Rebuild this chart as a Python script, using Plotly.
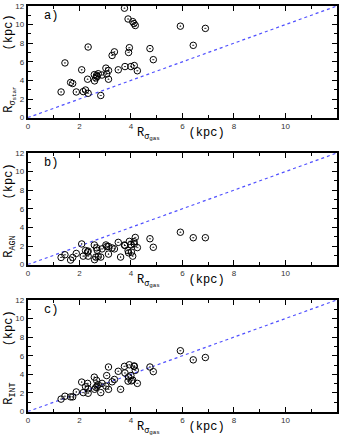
import plotly.graph_objects as go

# Shared x: R_sigma_gas (kpc)
r_gas = [1.29, 1.44, 1.66, 1.74, 1.88, 2.09, 2.15, 2.24, 2.32, 2.34, 2.34, 2.58, 2.59, 2.64,
         2.67, 2.69, 2.73, 2.83, 2.88, 3.03, 3.06, 3.13, 3.13, 3.27, 3.36, 3.51, 3.60, 3.75,
         3.77, 3.89, 3.91, 3.94, 4.00, 4.02, 4.07, 4.12, 4.13, 4.17, 4.25, 4.74, 4.87, 5.92,
         6.42, 6.89]
r_star = [2.76, 5.88, 3.78, 3.67, 2.76, 5.14, 2.80, 2.97, 4.13, 7.59, 2.62, 4.62, 3.95, 4.27,
          4.55, 4.41, 4.72, 2.38, 4.58, 5.32, 4.69, 5.07, 4.13, 6.68, 7.07, 5.14, None, 11.76,
          5.49, 10.60, 7.00, 7.52, 5.49, None, 10.32, 10.11, 5.60, 9.90, 5.04, 7.42, 6.23, 9.83,
          7.77, 9.59]
r_agn = [0.77, 1.06, 0.49, 0.77, 1.20, 2.22, 0.91, 1.51, 1.34, 1.45, 0.91, 2.11, 0.53, 0.81,
         1.80, 1.55, 0.88, 0.81, 1.69, 2.11, 1.94, 1.95, 1.13, 1.79, 1.69, 2.39, 0.81, 2.11,
         2.05, 1.51, 1.27, 2.50, 2.15, 1.34, 0.91, 2.46, 2.22, 2.92, 1.83, 2.78, 1.86, 3.48,
         2.89, 2.89]
r_int = [1.34, 1.65, 1.58, 1.58, 2.11, 3.17, 2.04, 2.67, 3.03, 2.45, 1.97, 3.70, 2.40, 2.60,
         3.35, 2.75, 2.90, 2.04, 3.03, 2.74, 3.87, 4.79, 2.39, 3.20, 3.45, 4.33, 2.39, 4.86,
         4.15, 3.27, 3.73, 5.03, 3.87, 3.30, 3.38, 4.86, 4.90, 4.43, 3.03, 4.79, 4.29, 6.54,
         5.56, 5.81]

panel_labels = ["a)", "b)", "c)"]
y_titles = ["R<sub>σ<sub>star</sub></sub>     (kpc)",
            "R<sub>AGN</sub>     (kpc)",
            "R<sub>INT</sub>     (kpc)"]
x_title = "R<sub>σ<sub>gas</sub></sub>    (kpc)"
one_to_one = [0, 12]
tick_vals = [0, 2, 4, 6, 8, 10, 12]

W, H = 341, 445
def px(x):
    return x / W
def py(y):
    return 1 - y / H

# panel pixel boxes (top, bottom)
boxes = [(2, 116), (152, 266), (302, 416)]
x_left, x_right = 26, 337

fig = go.Figure()
ys = [r_star, r_agn, r_int]
mono = "Liberation Mono"
for i, yv in enumerate(ys):
    xa = "x" if i == 0 else f"x{i+1}"
    ya = "y" if i == 0 else f"y{i+1}"
    fig.add_trace(go.Scatter(x=one_to_one, y=one_to_one, mode="lines",
                             line=dict(color="rgb(80,80,255)", width=1.2, dash="dot"),
                             xaxis=xa, yaxis=ya, showlegend=False, hoverinfo="skip"))
    fig.add_trace(go.Scatter(x=r_gas, y=yv, mode="markers",
                             marker=dict(symbol="circle-open-dot", size=6.5,
                                         color="black", line=dict(color="black", width=1)),
                             xaxis=xa, yaxis=ya, showlegend=False))
    top, bot = boxes[i]
    axcommon = dict(range=[0, 12], tickvals=tick_vals, ticks="inside", ticklen=5,
                    tickwidth=1, tickcolor="black", showline=True, linewidth=2,
                    linecolor="black", mirror="allticks", showgrid=False, zeroline=False,
                    tickfont=dict(family="Liberation Sans", size=8, color="#333"),
                    minor=dict(dtick=1, ticklen=3, ticks="inside", tickcolor="black",
                               showgrid=False))
    fig.layout[f"xaxis{'' if i == 0 else i+1}"] = dict(
        domain=[px(x_left), px(x_right)], anchor=ya, **axcommon)
    fig.layout[f"yaxis{'' if i == 0 else i+1}"] = dict(
        domain=[py(bot), py(top)], anchor=xa, **axcommon)
    # panel label
    fig.add_annotation(x=0.55, y=10.9, xref=xa, yref=ya, text=panel_labels[i],
                       showarrow=False, xanchor="left", yanchor="middle",
                       font=dict(family=mono, size=12, color="black"))
    # y title
    fig.add_annotation(x=px(8), y=py((top + bot) / 2 + 2), xref="paper", yref="paper",
                       text=y_titles[i], textangle=-90, showarrow=False,
                       xanchor="center", yanchor="middle",
                       font=dict(family=mono, size=12, color="black"))
    # x title
    fig.add_annotation(x=px(180), y=py(bot + 17), xref="paper", yref="paper",
                       text=x_title, showarrow=False, xanchor="center", yanchor="middle",
                       font=dict(family=mono, size=12, color="black"))

fig.update_layout(width=W, height=H, margin=dict(l=0, r=0, t=0, b=0),
                  paper_bgcolor="white", plot_bgcolor="white")
fig.write_html("out.html", config={"displayModeBar": False},
               post_script="document.body.style.margin='0px';document.body.style.padding='0px';")
